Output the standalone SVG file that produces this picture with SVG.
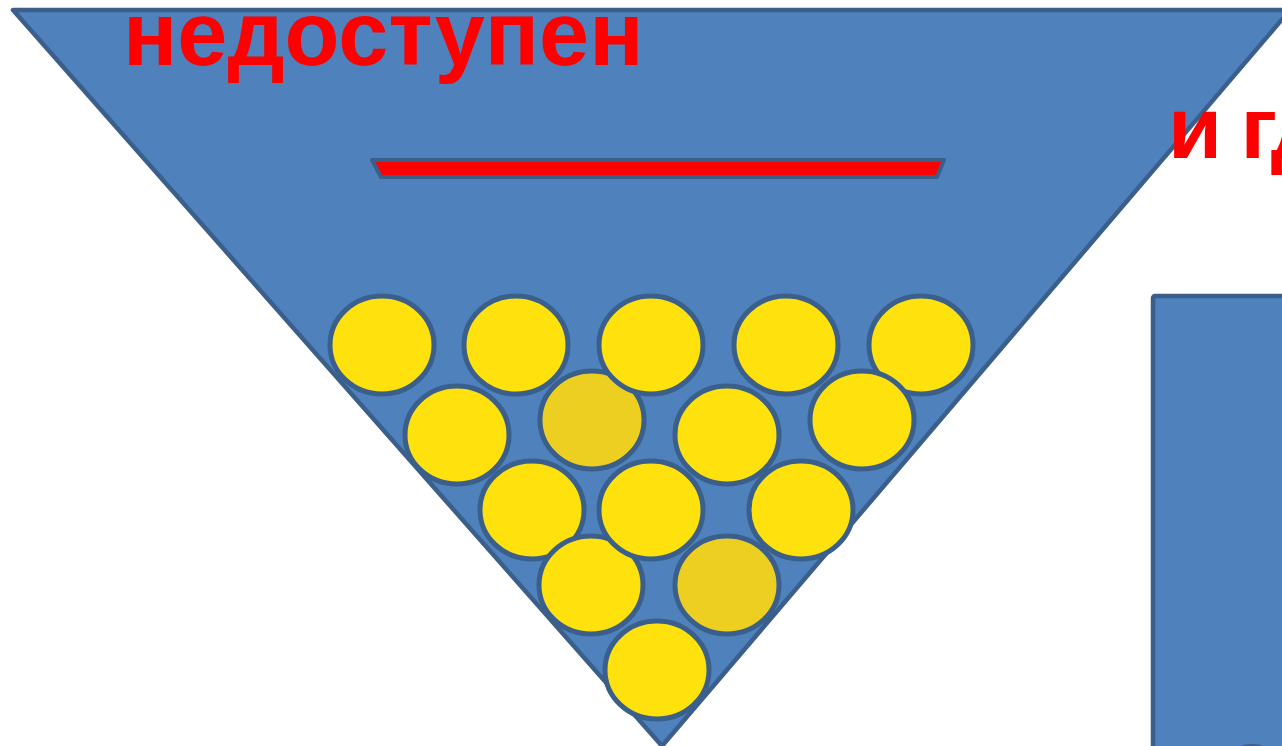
<svg xmlns="http://www.w3.org/2000/svg" width="1282" height="746" viewBox="0 0 1282 746">
<style>
.shape{fill:#4F81BD;stroke:#3A5F8B;stroke-width:4.5;stroke-linejoin:round}
.ball{fill:#FFE10D;stroke:#3A5F8B;stroke-width:5}
.dark{fill:#EDCF22}
.txt{font-family:"Liberation Sans",Arial,sans-serif;font-weight:bold;fill:#FF0000;font-size:90px}
</style>
<rect width="1282" height="746" fill="#FFFFFF"/>
<g id="funnel">
<polygon class="shape" points="13,10 1290,10 662,746"/>
</g>
<g id="slot">
<polygon points="372,160 944,160 937,177 381,177" fill="#FF0000" stroke="#3A5F8B" stroke-width="4" stroke-linejoin="round"/>
</g>
<g id="box">
<rect class="shape" x="1153" y="296" width="160" height="480" rx="2"/>
<ellipse cx="1252" cy="772" rx="32" ry="28" fill="#3A5F8B"/>
</g>
<g id="balls">
<ellipse class="ball" cx="382" cy="345" rx="52" ry="49"/>
<ellipse class="ball" cx="516" cy="345" rx="52" ry="49"/>
<ellipse class="ball dark" cx="592" cy="420" rx="52" ry="49"/>
<ellipse class="ball" cx="651" cy="345" rx="52" ry="49"/>
<ellipse class="ball" cx="786" cy="345" rx="52" ry="49"/>
<ellipse class="ball" cx="921" cy="345" rx="52" ry="49"/>
<ellipse class="ball" cx="457" cy="435" rx="52" ry="49"/>
<ellipse class="ball" cx="727" cy="435" rx="52" ry="49"/>
<ellipse class="ball" cx="862" cy="420" rx="52" ry="49"/>
<ellipse class="ball" cx="532" cy="510" rx="52" ry="49"/>
<ellipse class="ball" cx="801" cy="510" rx="52" ry="49"/>
<ellipse class="ball" cx="591" cy="585" rx="52" ry="49"/>
<ellipse class="ball" cx="651" cy="510" rx="52" ry="49"/>
<ellipse class="ball dark" cx="727" cy="585" rx="52" ry="49"/>
<ellipse class="ball" cx="657" cy="670" rx="52" ry="49"/>
</g>
<g id="labels">
<text class="txt" x="123" y="65">недоступен</text>
<text class="txt" x="1168" y="158" style="font-size:88px;letter-spacing:-3px">и гд</text>
</g>
</svg>
